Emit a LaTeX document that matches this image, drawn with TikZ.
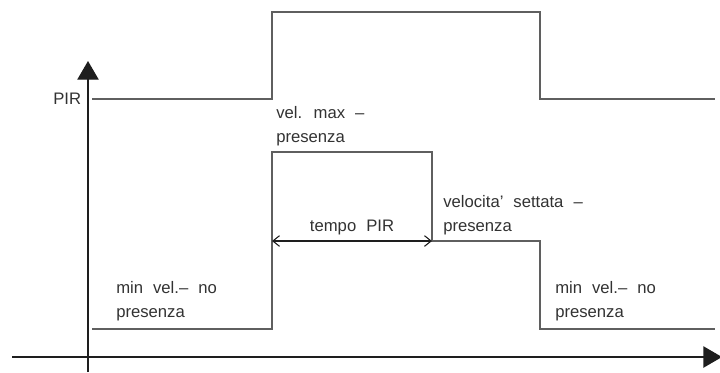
\documentclass[tikz,border=0pt]{standalone}
\usepackage{fontspec}
\setmainfont{Liberation Sans}
\usetikzlibrary{arrows.meta,positioning}
\definecolor{sigline}{RGB}{95,95,95}
\definecolor{axline}{RGB}{30,30,30}
\definecolor{lbltext}{RGB}{50,50,50}

\begin{document}
\begin{tikzpicture}[
  x=0.75pt, y=-0.75pt,
  axis/.style={draw=axline, line width=1pt, -{Triangle[length=14pt,width=16pt]}},
  sig/.style={draw=sigline, line width=1.4pt, line join=miter},
  span/.style={draw=axline, line width=0.8pt, {Straight Barb[length=5pt,width=8pt]}-{Straight Barb[length=5pt,width=8pt]}},
  lbl/.style={text=lbltext, align=left, inner sep=0pt, anchor=west,
              font={\fontsize{12.5}{18}\selectfont\spaceskip=0.6em plus 0.1em}}
]
\useasboundingbox (0,0) rectangle (720,372);

% Axes
\coordinate (yfoot) at (88,372);
\coordinate (ytip)  at (88,61);
\coordinate (xfoot) at (12,357);
\coordinate (xtip)  at (722,357);
\draw[axis] (yfoot) -- (ytip);
\draw[axis] (xfoot) -- (xtip);

% PIR signal
\node[lbl] (pir) at (53,99) {PIR};
\coordinate (p0) at (92,99);
\coordinate (p1) at (272,99);
\coordinate (p2) at (272,12);
\coordinate (p3) at (540,12);
\coordinate (p4) at (540,99);
\coordinate (p5) at (715,99);
\draw[sig] (p0) -- (p1) -- (p2) -- (p3) -- (p4) -- (p5);

% Speed signal
\coordinate (v0) at (92,329);
\coordinate (v1) at (272,329);
\coordinate (v2) at (272,152);
\coordinate (v3) at (432,152);
\coordinate (v4) at (432,241);
\coordinate (v5) at (540,241);
\coordinate (v6) at (540,329);
\coordinate (v7) at (715,329);
\draw[sig] (v0) -- (v1) -- (v2) -- (v3) -- (v4) -- (v5) -- (v6) -- (v7);

% PIR time span
\draw[span] (v2 |- v4) -- node[lbl, anchor=south, above=4pt] (tpir) {tempo PIR} (v4);

% Labels
\node[lbl] (vmax)  at (276,126) {vel. max --\\presenza};
\node[lbl] (vset)  at (443,215) {velocita' settata --\\presenza};
\node[lbl] (vminl) at (116,301) {min vel.-- no\\presenza};
\node[lbl] (vminr) at (555,301) {min vel.-- no\\presenza};
\end{tikzpicture}
\end{document}
